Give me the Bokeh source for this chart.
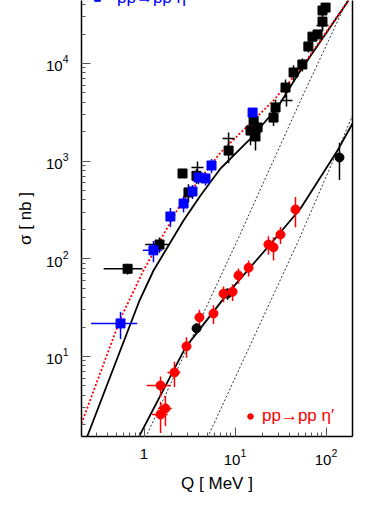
import numpy as np
from bokeh.plotting import figure
from bokeh.models import (LogAxis, LogTicker, LogTickFormatter, FixedTicker, Range1d,
                          Legend, LegendItem, ColumnDataSource)
from bokeh.embed import file_html
from bokeh.resources import INLINE

# ---------------- data ----------------
# pp -> pp eta, COSY-11 like (blue squares)
eta_c_q = [0.552, 1.27, 1.95, 2.72, 3.41, 3.97, 4.74, 5.52, 15.6]
eta_c_sig = [21.8, 122, 271, 368, 489, 680, 664, 902, 3140]
eta_c_qerr = [0.29, 0.3, 0.15, 0.2, 0.2, 0.2, 0.2, 0.2, 0.3]
eta_c_sigerr = [6.7, 30, 60, 70, 80, 100, 100, 150, 300]

# pp -> pp eta, other experiments (black squares)
eta_o_q = [0.66, 1.48, 2.65, 3.08, 3.77, 8.5, 14.8, 16.0, 16.8, 17.7, 26.5, 27.9,
           35.9, 44, 55, 64, 71, 80.7, 91.5, 91.5, 98.9]
eta_o_sig = [79, 140, 747, 478, 707, 1282, 2055, 2600, 1787, 2210, 2790, 3540,
             5660, 8070, 9750, 14900, 18800, 19800, 26800, 34800, 37300]
eta_o_qerr = [0.3, 0.45, 0.0, 0.3, 0.4, 0.0, 0.0, 0.0, 0.0, 0.0, 0.0, 0.0,
              0.0, 0.0, 0.0, 0.0, 0.0, 0.0, 0.0, 0.0, 0.0]
eta_o_sigerr = [10, 25, 70, 100, 120, 330, 600, 500, 500, 500, 500, 700,
                1200, 1500, 1500, 2000, 2000, 2000, 5000, 4000, 4000]

# crosses (points drawn only as crosses)
eta_x_q = [3.87, 8.5, 36.8, 91.5]
eta_x_sig = [860, 1702, 4170, 24400]

# pp -> pp eta' (red circles)
etap_c_q = [1.52, 1.72, 1.52, 2.16, 2.93, 4.07, 5.8, 7.48, 9.4, 10.9, 14.1, 23.3, 26.5, 31.6, 46.2]
etap_c_sig = [5.05, 2.94, 2.55, 6.86, 12.7, 25.1, 27.5, 44, 46, 67.5, 81, 140, 131, 177, 320]
etap_c_qerr = [0.45, 0.3, 0.3, 0.35, 0.3, 0.3, 0.3, 0.5, 0.5, 0.5, 0.5, 0.5, 0.5, 0.5, 0.5]
etap_c_sigerr = [1.2, 1.0, 0.9, 2.0, 3.0, 5.0, 6.0, 8.0, 9.0, 12, 15, 30, 35, 35, 110]

# pp -> pp eta' other experiments (black circles)
etap_o_q = [3.78, 8.27, 140.6]
etap_o_sig = [19.4, 44, 1089]
etap_o_qerr = [0.25, 0.5, 0.0]
etap_o_sigerr = [2.5, 6.0, 450]

# model curves
eta_fsi_q = [0.2376, 0.892, 1.272, 2.717, 4.178, 6.93, 14.8, 29.3, 52.5, 176.7]
eta_fsi_sig = [1.518, 37.4, 75.9, 246.6, 444.5, 840, 1703, 3537, 8450, 44000]

eta_red_q = [0.2056, 0.552, 0.987, 1.518, 2.518, 6.93, 26.5, 52.5, 176.7]
eta_red_sig = [2.062, 24.5, 75.9, 156.0, 362, 1225, 4172, 8866, 44000]

eta_ps_q = [1.04, 10.6, 52.5, 155.7, 180.0]
eta_ps_sig = [1.48, 154, 4170, 36500, 49000]

etap_ps_q = [4.99, 49.9, 133.7, 195.5]
etap_ps_sig = [1.48, 154, 1282, 2930]

etap_fsi_q = [0.87, 2.86, 8.27, 26.5, 52.5, 133.7, 195.5]
etap_fsi_sig = [1.48, 12.4, 44, 154, 327, 1282, 2427]

x_label = "Q [ MeV ]"
y_label = "σ [ nb ]"
legend_eta = "pp→pp η"
legend_etap = "pp→pp η′"

FONT = "Liberation Sans"

# ---------------- figure ----------------
p = figure(x_axis_type="log", y_axis_type="log",
           x_range=Range1d(0.2056, 195.5), y_range=Range1d(1.517, 44060),
           frame_width=271, frame_height=436,
           min_border_left=81, min_border_right=38, min_border_top=0, min_border_bottom=69,
           output_backend="svg", toolbar_location=None,
           background_fill_color="white", border_fill_color="white",
           outline_line_color=None)
p.grid.visible = False

for ax in (p.xaxis[0], p.yaxis[0]):
    ax.ticker = LogTicker(num_minor_ticks=10)
    ax.formatter = LogTickFormatter(min_exponent=1)
    ax.major_tick_in = 9
    ax.major_tick_out = 0
    ax.minor_tick_in = 4
    ax.minor_tick_out = 0
    ax.axis_line_width = 1.5
    ax.major_tick_line_color = "#555555"
    ax.minor_tick_line_color = "#555555"
    ax.major_label_text_font = FONT
    ax.major_label_text_font_size = "15px"
    ax.major_label_text_color = "black"
    ax.axis_label_text_font = FONT
    ax.axis_label_text_font_size = "17px"
    ax.axis_label_text_font_style = "normal"
    ax.axis_label_text_color = "black"

p.xaxis.axis_label = x_label
p.yaxis.axis_label = y_label
p.xaxis.major_label_standoff = 12
p.xaxis.axis_label_standoff = 6
p.yaxis.major_label_standoff = 13
p.yaxis.axis_label_standoff = 8

right = LogAxis(ticker=FixedTicker(ticks=[]), axis_line_width=1.5,
                major_tick_in=0, major_tick_out=0, minor_tick_in=0, minor_tick_out=0)
p.add_layout(right, "right")

# ---------------- curves ----------------
p.line(eta_ps_q, eta_ps_sig, line_color="#333333", line_width=1, line_dash="2 2")
p.line(etap_ps_q, etap_ps_sig, line_color="#333333", line_width=1, line_dash="2 2")
p.line(eta_fsi_q, eta_fsi_sig, line_color="black", line_width=1.8)
p.line(etap_fsi_q, etap_fsi_sig, line_color="black", line_width=1.8)
p.line(eta_red_q, eta_red_sig, line_color="red", line_width=1.8, line_dash="2 2")


def errbars(q, s, qe, se, color):
    q = np.array(q, float); s = np.array(s, float)
    qe = np.array(qe, float); se = np.array(se, float)
    src = ColumnDataSource(dict(x0=q - qe, x1=q + qe, y=s,
                                y0=np.maximum(s - se, 1e-3), y1=s + se, x=q))
    p.segment(x0="x0", y0="y", x1="x1", y1="y", source=src, line_color=color, line_width=1.5)
    p.segment(x0="x", y0="y0", x1="x", y1="y1", source=src, line_color=color, line_width=1.5)


errbars(eta_o_q, eta_o_sig, eta_o_qerr, eta_o_sigerr, "black")
errbars(eta_c_q, eta_c_sig, eta_c_qerr, eta_c_sigerr, "blue")
errbars(etap_o_q, etap_o_sig, etap_o_qerr, etap_o_sigerr, "black")
errbars(etap_c_q, etap_c_sig, etap_c_qerr, etap_c_sigerr, "red")

p.scatter(eta_x_q, eta_x_sig, marker="cross", size=12, line_color="black", line_width=1.5)
p.scatter(eta_o_q, eta_o_sig, marker="square", size=9, fill_color="black", line_color="black")
blue_r = p.scatter(eta_c_q, eta_c_sig, marker="square", size=9, fill_color="blue", line_color="blue")
p.scatter(etap_o_q, etap_o_sig, marker="circle", size=9, fill_color="black", line_color="black")
red_r = p.scatter(etap_c_q, etap_c_sig, marker="circle", size=9, fill_color="red", line_color="red")

leg_b = Legend(items=[LegendItem(label=legend_eta, renderers=[blue_r])],
               location=(9, 428), border_line_color=None, background_fill_alpha=0,
               label_text_color="blue", label_text_font=FONT, label_text_font_size="17px",
               glyph_width=14, glyph_height=16, label_height=16, label_standoff=13,
               padding=0, margin=0, spacing=0)
p.add_layout(leg_b)

leg = Legend(items=[LegendItem(label=legend_etap, renderers=[red_r])],
             location=(162, 10), border_line_color=None, background_fill_alpha=0,
             label_text_color="red", label_text_font=FONT, label_text_font_size="17px",
             glyph_width=14, glyph_height=16, label_height=16, label_standoff=5,
             padding=0, margin=0, spacing=0)
p.add_layout(leg)

open("out.html", "w").write(file_html(p, INLINE))
